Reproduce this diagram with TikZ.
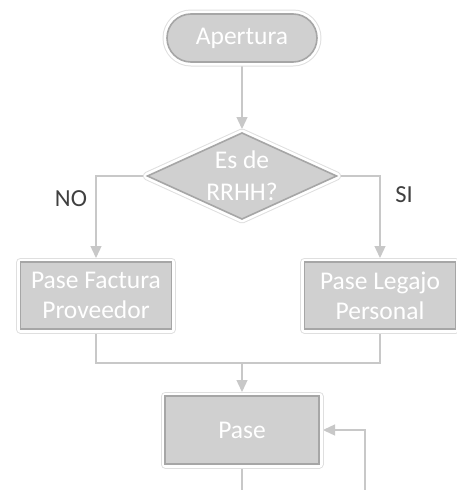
\documentclass[tikz,border=0pt]{standalone}
\usepackage{fontspec}
\setmainfont{Carlito}
\usetikzlibrary{arrows.meta,positioning,calc,backgrounds,shapes.geometric,shadows}
\definecolor{bodygray}{HTML}{D0D0D0}
\definecolor{edgegray}{HTML}{A6A6A6}
\definecolor{linegray}{HTML}{C8C8C8}
\definecolor{labelgray}{HTML}{404040}
\tikzset{
  bevel/.style ={draw=edgegray, line width=1.6pt, fill=bodygray, text=white, align=center,
                 inner sep=0pt, outer sep=0pt, font=\fontsize{25.5}{30}\selectfont,
                 drop shadow={opacity=0.2, shadow xshift=1.5pt, shadow yshift=-2.5pt},
                 preaction={draw=gray!25, line width=9pt, line join=round},
                 preaction={draw=white, line width=7pt, line join=round}},
  term/.style  ={bevel, rounded corners=24pt, minimum width=150pt, minimum height=48pt},
  proc/.style  ={bevel, minimum width=151pt, minimum height=67pt},
  dec/.style   ={bevel, diamond, aspect=2.1, minimum width=189pt, minimum height=86pt,
                 font=\fontsize{25.5}{32}\selectfont},
  ln/.style    ={draw=linegray, line width=1.3pt},
  arr/.style   ={ln, -{Triangle[length=12pt, width=11pt]}, shorten >=4pt},
  lbl/.style   ={text=labelgray, font=\fontsize{24.5}{28}\selectfont},
}
\begin{document}
\begin{tikzpicture}[x=1pt, y=-1pt]
  \useasboundingbox (0,0) rectangle (456,490);
  % flow
  \node[term] (ap) at (242,38) {Apertura};
  \node[dec, below=71pt of ap] (dia) {Es de\\RRHH?};
  \node[proc, below=43pt of dia, xshift=-146pt] (fact) {Pase Factura\\Proveedor};
  \node[proc, below=43pt of dia, xshift=138pt] (leg) {Pase Legajo\\Personal};
  \node[proc, minimum width=154pt, minimum height=68pt, below=177pt of dia] (pase) {Pase};
  \node[lbl] (no) at (71,199) {NO};
  \node[lbl] (si) at (404,195) {SI};
  % connectors
  \begin{scope}[on background layer]
    \draw[arr] (ap) -- (dia);
    \draw[arr] (dia.west) -| (fact);
    \draw[arr] (dia.east) -| (leg);
    \coordinate (m) at ($(pase.north)+(0pt,33pt)$);
    \draw[ln] (fact) |- (m);
    \draw[ln] (leg) |- (m);
    \draw[arr] (m) -- (pase);
    \coordinate (lp) at ($(pase.east)+(46pt,0pt)$);
    \draw[arr] (pase) -- ++(0pt,-70pt) -| (lp) -- (pase);
  \end{scope}
\end{tikzpicture}
\end{document}
